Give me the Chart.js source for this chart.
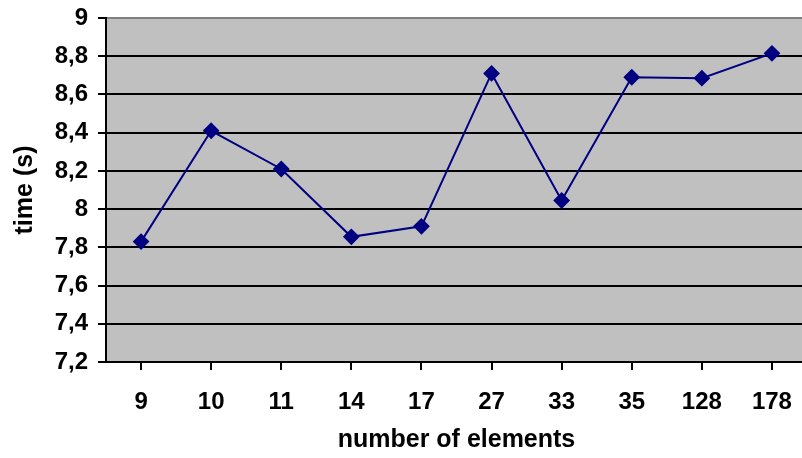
<!DOCTYPE html>
<html>
<head>
<meta charset="utf-8">
<script src="https://cdn.jsdelivr.net/npm/chart.js@4"></script>
<style>
    html, body { margin: 0; padding: 0; background: #fff; overflow: hidden; }
    #wrap { position: relative; width: 816px; height: 458px; }
</style>
</head>
<body>
<div id="wrap"><canvas id="myChart"></canvas></div>
<script>
const elementCounts = ['9', '10', '11', '14', '17', '27', '33', '35', '128', '178'];
const timeValues = [7.83, 8.41, 8.21, 7.855, 7.91, 8.71, 8.045, 8.69, 8.685, 8.815];
const yMin = 7.2;
const yMax = 9;
const yStep = 0.2;

const plotBackground = {
    id: 'plotBackground',
    beforeDraw(chart) {
        const { ctx, chartArea } = chart;
        ctx.save();
        ctx.fillStyle = '#C0C0C0';
        ctx.fillRect(chartArea.left, chartArea.top, chartArea.right - chartArea.left, chartArea.bottom - chartArea.top);
        ctx.restore();
    }
};

const family = 'Liberation Sans, Arial, sans-serif';
const tickFont = { family: family, weight: 'bold', size: 24 };
const titleFont = { family: family, weight: 'bold', size: 25 };

new Chart(document.getElementById('myChart'), {
    type: 'line',
    data: {
        labels: elementCounts,
        datasets: [{
            data: timeValues,
            borderColor: '#000080',
            backgroundColor: '#000080',
            borderWidth: 2,
            pointStyle: 'rectRot',
            pointRadius: 7,
            pointHoverRadius: 7,
            tension: 0,
        }]
    },
    options: {
        responsive: true,
        maintainAspectRatio: false,
        animation: false,
        layout: { padding: { top: 18, right: 2, left: 0, bottom: 0 } },
        plugins: {
            legend: { display: false },
            tooltip: { enabled: false }
        },
        scales: {
            x: {
                offset: true,
                afterFit(scale) {
                    scale.height = 96;
                    scale.paddingLeft = 0;
                    scale.paddingRight = 0;
                },
                border: { color: '#000', width: 2 },
                grid: {
                    drawOnChartArea: false,
                    tickLength: 8,
                    tickColor: '#000',
                    lineWidth: 2,
                },
                ticks: { color: '#000', font: tickFont, padding: 18, maxRotation: 0, autoSkip: false },
                title: {
                    display: true,
                    text: 'number of elements',
                    color: '#000',
                    font: titleFont,
                    padding: { top: 0, bottom: 3 }
                }
            },
            y: {
                min: yMin,
                max: yMax,
                afterFit(scale) {
                    scale.width = 106;
                    scale.paddingTop = 0;
                    scale.paddingBottom = 0;
                },
                border: { color: '#000', width: 2 },
                grid: {
                    color: (c) => c.tick && c.tick.value >= yMax - 1e-9 ? '#808080' : '#000',
                    lineWidth: 2,
                    tickLength: 8,
                    tickColor: '#000',
                },
                ticks: {
                    stepSize: yStep,
                    color: '#000',
                    font: tickFont,
                    padding: 10,
                    callback: (v) => String(Math.round(v * 10) / 10).replace('.', ',')
                },
                title: {
                    display: true,
                    text: 'time (s)',
                    color: '#000',
                    font: titleFont,
                    padding: { top: 10, bottom: 0 }
                }
            }
        }
    },
    plugins: [plotBackground]
});
</script>
</body>
</html>
